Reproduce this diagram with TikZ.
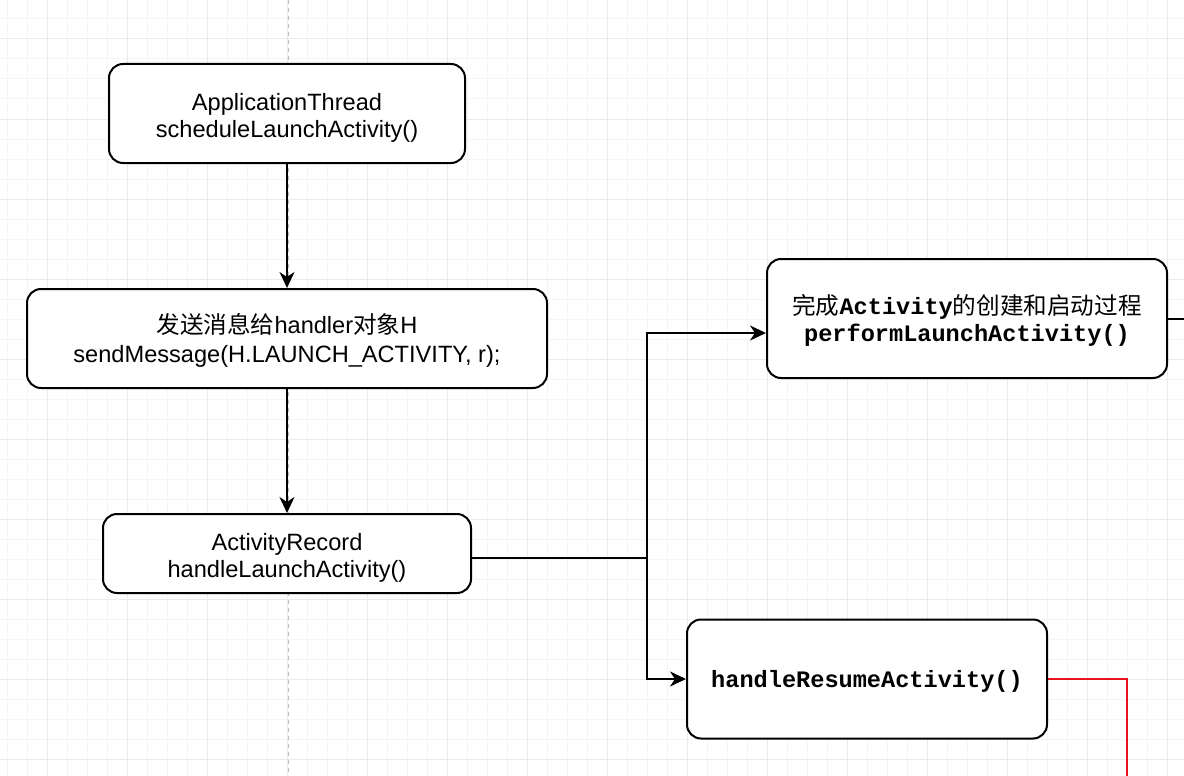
\documentclass[tikz,border=0pt]{standalone}
\usepackage{fontspec}
\setmainfont{Liberation Sans}
\newfontfamily\cjk{Noto Sans CJK SC}
\newfontfamily\cour{Liberation Mono}
\usetikzlibrary{arrows.meta,calc}
\definecolor{gridminor}{HTML}{F5F5F5}
\definecolor{gridmajor}{HTML}{EAEAEA}
\definecolor{dashgrey}{HTML}{BBBBBB}
\definecolor{redline}{HTML}{E8131F}
\newcommand\topstrutx[1]{\rule{0pt}{#1}}
\newcommand\botstrutx{\rule[-7pt]{0pt}{7pt}}
\begin{document}
\begin{tikzpicture}[x=1pt,y=-1pt,
  box/.style={draw=black, line width=2pt, fill=white, rounded corners=14pt,
    align=center, inner sep=0pt, font=\fontsize{23.6}{27.5}\selectfont},
  conn/.style={draw=black, line width=2pt},
  arr/.style={conn, -{Stealth[length=16pt,width=15pt,inset=5pt]}},
  redconn/.style={draw=redline, line width=2pt},
  cn/.style={font=\cjk}]
\useasboundingbox (0,0) rectangle (1184,776);
\fill[white] (0,0) rectangle (1184,776);
% grid
\foreach \x in {7,27,...,1184} \draw[gridminor, line width=1pt] (\x,0) -- (\x,776);
\foreach \y in {19,39,...,776} \draw[gridminor, line width=1pt] (0,\y) -- (1184,\y);
\foreach \x in {47,127,...,1184} \draw[gridmajor, line width=1pt] (\x,0) -- (\x,776);
\foreach \y in {39,119,...,776} \draw[gridmajor, line width=1pt] (0,\y) -- (1184,\y);
% dashed divider
\draw[dashgrey, line width=1.6pt, dash pattern=on 4pt off 4pt] (288.5,0) -- (288.5,776);

% nodes
\node[box, minimum width=356pt, minimum height=99pt] (at) at (287,113.5)
  {\topstrutx{27.5pt}ApplicationThread\\scheduleLaunchActivity()\botstrutx};
\node[box, minimum width=520pt, minimum height=99pt,
      font=\fontsize{23.6}{29}\selectfont] (sm) at (287,338.5)
  {\topstrutx{25pt}{\cjk 发送消息给}handler{\cjk 对象}H\\sendMessage(H.LAUNCH\_ACTIVITY, r);\botstrutx};
\node[box, minimum width=368pt, minimum height=79pt] (ar) at (287,553.5)
  {\topstrutx{27.5pt}ActivityRecord\\handleLaunchActivity()\botstrutx};
\node[box, minimum width=400pt, minimum height=119pt] (pl) at (967,318.5)
  {\topstrutx{26pt}{\cjk 完成}{\cour\bfseries Activity}{\cjk 的创建和启动过程}\\{\cour\bfseries performLaunchActivity()}\botstrutx};
\node[box, minimum width=360pt, minimum height=119pt] (hr) at (867,679)
  {\topstrutx{24pt}{\cour\bfseries handleResumeActivity()}\rule[-7.4pt]{0pt}{7.4pt}};

% connectors
\coordinate (j) at (647,557.5);
\coordinate (outR) at (1184,318.5);
\coordinate (redEnd) at (1127,776);
\draw[arr] (at) -- (sm);
\draw[arr] (sm) -- (ar);
\draw[arr] ($(ar.east)+(0,4)$) -- (j) |- ($(pl.west)+(0,14.5)$);
\draw[arr] (j) |- (hr.west);
\draw[conn] (pl.east) -- (outR);
\draw[redconn] (hr.east) -| (redEnd);
\end{tikzpicture}
\end{document}
